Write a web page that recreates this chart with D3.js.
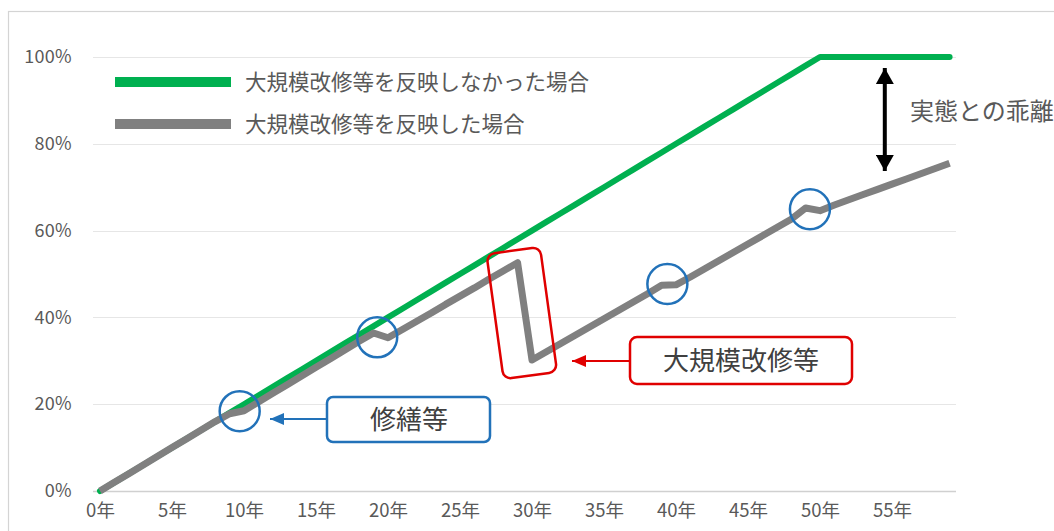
<!DOCTYPE html>
<html>
<head>
<meta charset="utf-8">
<script src="https://cdn.jsdelivr.net/npm/d3@7"></script>
<style>
  html, body { margin: 0; padding: 0; background: #ffffff; }
  svg { display: block; }
  text { font-family: "Noto Sans CJK JP", "Noto Sans", sans-serif; }
</style>
</head>
<body>
<svg id="chart" width="1054" height="531"></svg>
<script>
// ---- data ----
const years = [0,1,2,3,4,5,6,7,8,9,10,11,12,13,14,15,16,17,18,19,20,21,22,23,24,25,26,27,28,29,
               30,31,32,33,34,35,36,37,38,39,40,41,42,43,44,45,46,47,48,49,50,51,52,53,54,55,56,57,58,59];
// 大規模改修等を反映しなかった場合 (%)
const noReflect = [0,2,4,6,8,10,12,14,16,18,20,22,24,26,28,30,32,34,36,38,40,42,44,46,48,50,52,54,56,58,
                   60,62,64,66,68,70,72,74,76,78,80,82,84,86,88,90,92,94,96,98,100,100,100,100,100,100,100,100,100,100];
// 大規模改修等を反映した場合 (%)
const reflect = [0,2,4,6,8,10,12,14,16,17.8,18.5,20.5,22.5,24.5,26.5,28.5,30.5,32.5,34.5,36.4,35.3,37.2,39.1,41,43,44.9,46.8,48.8,50.7,52.6,
                 30.2,32.1,34,35.9,37.8,39.7,41.6,43.5,45.4,47.4,47.5,49.3,51.2,53.1,55,56.9,58.8,60.7,62.6,65.2,64.6,65.9,67.1,68.3,69.5,70.7,71.9,73.1,74.3,75.5];
const xTickValues = [0,5,10,15,20,25,30,35,40,45,50,55];
const xTickLabels = ["0年","5年","10年","15年","20年","25年","30年","35年","40年","45年","50年","55年"];
const yTickValues = [0,20,40,60,80,100];
const yTickLabels = ["0%","20%","40%","60%","80%","100%"];
const seriesNames = ["大規模改修等を反映しなかった場合","大規模改修等を反映した場合"];
// annotation points (year, %)
const circlePoints = [[9.7,18.4],[19.25,35.4],[39.4,47.7],[49.3,64.9]];
const gapYear = 54.5;

// ---- layout ----
const svg = d3.select("#chart");
const x = d3.scaleLinear().domain([0, 59]).range([100, 949.6]);
const y = d3.scaleLinear().domain([0, 100]).range([491, 57]);

// outer frame
svg.append("rect").attr("x", 8.5).attr("y", 11.5).attr("width", 1100).attr("height", 600)
  .attr("fill", "none").attr("stroke", "#d4d4d4").attr("stroke-width", 1.2);

// gridlines
const gridG = svg.append("g");
gridG.selectAll("line").data(yTickValues).join("line")
  .attr("x1", 93).attr("x2", 956)
  .attr("y1", d => Math.round(y(d)) + 0.5).attr("y2", d => Math.round(y(d)) + 0.5)
  .attr("stroke", d => d === 0 ? "#d0d0d0" : "#e6e6e6").attr("stroke-width", d => d === 0 ? 1.5 : 1.2);

// y axis labels
const yAxis = d3.axisLeft(y).tickValues(yTickValues).tickFormat((d, i) => yTickLabels[i]).tickSize(0).tickPadding(0);
const yg = svg.append("g").attr("transform", "translate(72,0)").call(yAxis);
yg.select(".domain").remove();
yg.selectAll("text").attr("font-size", 18).attr("fill", "#595959")
  .attr("font-family", "'DejaVu Sans', 'Noto Sans', sans-serif").attr("letter-spacing", 0.3);

// x axis labels
const xAxis = d3.axisBottom(x).tickValues(xTickValues).tickFormat((d, i) => xTickLabels[i]).tickSize(0).tickPadding(0);
const xg = svg.append("g").attr("transform", "translate(0,510)").call(xAxis);
xg.select(".domain").remove();
xg.selectAll("text").attr("font-size", 18.5).attr("fill", "#595959").attr("dy", "0.4em");

// lines
const line = d3.line().x((d, i) => x(years[i])).y(d => y(d));
svg.append("path").datum(noReflect).attr("d", line)
  .attr("fill", "none").attr("stroke", "#00b050").attr("stroke-width", 6)
  .attr("stroke-linejoin", "round").attr("stroke-linecap", "round");
svg.append("path").datum(reflect).attr("d", line)
  .attr("fill", "none").attr("stroke", "#808080").attr("stroke-width", 7)
  .attr("stroke-linejoin", "round").attr("stroke-linecap", "butt");

// legend
const legend = svg.append("g");
const legendColors = ["#00b050", "#808080"];
const legendY = [82, 124];
seriesNames.forEach((name, i) => {
  legend.append("line").attr("x1", 115).attr("x2", 231).attr("y1", legendY[i]).attr("y2", legendY[i])
    .attr("stroke", legendColors[i]).attr("stroke-width", 10);
  legend.append("text").attr("x", 245).attr("y", legendY[i]).attr("dy", "0.35em")
    .attr("font-size", 21.5).attr("fill", "#595959").text(name);
});

// blue circles
svg.append("g").selectAll("circle").data(circlePoints).join("circle")
  .attr("cx", d => x(d[0])).attr("cy", d => y(d[1])).attr("r", 20)
  .attr("fill", "none").attr("stroke", "#2272b9").attr("stroke-width", 2.5);

// defs: arrowheads
const defs = svg.append("defs");
function marker(id, color, w, h) {
  defs.append("marker").attr("id", id).attr("viewBox", `0 0 ${w} ${h}`)
    .attr("refX", w).attr("refY", h / 2).attr("markerWidth", w).attr("markerHeight", h)
    .attr("markerUnits", "userSpaceOnUse").attr("orient", "auto-start-reverse")
    .append("path").attr("d", `M0,0 L${w},${h/2} L0,${h} Z`).attr("fill", color);
}
marker("arrBlue", "#2272b9", 14, 12);
marker("arrRed", "#e00000", 14, 12);
marker("arrBlack", "#000000", 16, 18);

// 修繕等 box + arrow
svg.append("line").attr("x1", 327).attr("y1", 419).attr("x2", 270).attr("y2", 419)
  .attr("stroke", "#2272b9").attr("stroke-width", 2.2).attr("marker-end", "url(#arrBlue)");
svg.append("rect").attr("x", 327).attr("y", 397).attr("width", 163).attr("height", 45).attr("rx", 6)
  .attr("fill", "#ffffff").attr("stroke", "#2272b9").attr("stroke-width", 2.5);
svg.append("text").attr("x", 409).attr("y", 420).attr("dy", "0.35em").attr("text-anchor", "middle")
  .attr("font-size", 26).attr("fill", "#404040").text("修繕等");

// red rotated box around the drop
const dropX = (x(29) + x(30)) / 2;
svg.append("rect").attr("x", -27).attr("y", -63).attr("width", 54).attr("height", 126).attr("rx", 8)
  .attr("transform", `translate(${dropX - 3},${y(41)}) rotate(-7.8)`)
  .attr("fill", "none").attr("stroke", "#e00000").attr("stroke-width", 2.5);

// 大規模改修等 box + arrow
svg.append("line").attr("x1", 630).attr("y1", 361).attr("x2", 572).attr("y2", 361)
  .attr("stroke", "#e00000").attr("stroke-width", 2.2).attr("marker-end", "url(#arrRed)");
svg.append("rect").attr("x", 630).attr("y", 337).attr("width", 222).attr("height", 47).attr("rx", 7)
  .attr("fill", "#ffffff").attr("stroke", "#e00000").attr("stroke-width", 2.5);
svg.append("text").attr("x", 741).attr("y", 361).attr("dy", "0.35em").attr("text-anchor", "middle")
  .attr("font-size", 26).attr("fill", "#404040").text("大規模改修等");

// black double arrow (gap)
svg.append("line").attr("x1", x(gapYear)).attr("x2", x(gapYear)).attr("y1", 68).attr("y2", 171)
  .attr("stroke", "#000").attr("stroke-width", 4)
  .attr("marker-start", "url(#arrBlack)").attr("marker-end", "url(#arrBlack)");
svg.append("text").attr("x", 910).attr("y", 112).attr("dy", "0.35em")
  .attr("font-size", 24).attr("fill", "#595959").text("実態との乖離");
</script>
</body>
</html>
